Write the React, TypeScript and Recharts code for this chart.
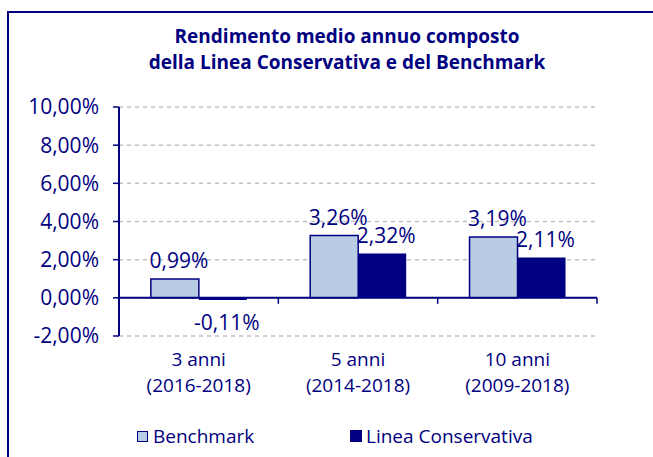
import React from "react";
import {
  BarChart, Bar, XAxis, YAxis, CartesianGrid, ReferenceLine, LabelList, Legend,
} from "recharts";

const periods = ["3 anni", "5 anni", "10 anni"];
const ranges = ["(2016-2018)", "(2014-2018)", "(2009-2018)"];
const benchmark = [0.99, 3.26, 3.19];
const conservativa = [-0.11, 2.32, 2.11];
const yTicks = [-2, 0, 2, 4, 6, 8, 10];

const data = periods.map((p, i) => ({
  period: p,
  range: ranges[i],
  benchmark: benchmark[i],
  conservativa: conservativa[i],
}));

const NAVY = "#000080";
const LIGHT = "#b8cce4";
const FONT = "'Open Sans', sans-serif";
const FS = 21;

const fmt = (v: number) => v.toFixed(2).replace(".", ",") + "%";

// ── value labels: above positive bars, below negative ones ──────────────────
const renderValue = (props: any) => {
  const { x, y, width, height, value } = props;
  const top = Math.min(y, y + height);
  const bottom = Math.max(y, y + height);
  const cx = x + width / 2 + 4;
  return value >= 0 ? (
    <text x={cx} y={top - 11} fill={NAVY} fontSize={FS} fontFamily={FONT} textAnchor="middle">
      {fmt(value)}
    </text>
  ) : (
    <text x={cx} y={bottom + 30} fill={NAVY} fontSize={FS} fontFamily={FONT} textAnchor="middle">
      {fmt(value)}
    </text>
  );
};

// ── two-line category tick ──────────────────────────────────────────────────
const CategoryTick = (props: any) => {
  const { x, y, payload } = props;
  const row = data.find(d => d.period === payload.value);
  return (
    <g>
      <text x={x} y={y + 22} fill={NAVY} fontSize={19} fontFamily={FONT} textAnchor="middle">
        {payload.value}
      </text>
      <text x={x} y={y + 48} fill={NAVY} fontSize={19} fontFamily={FONT} textAnchor="middle">
        {row?.range}
      </text>
    </g>
  );
};

// ── zero axis with category boundary ticks ──────────────────────────────────
const ZeroAxis = (props: any) => {
  const { x1, y1, x2 } = props;
  const step = (x2 - x1) / periods.length;
  return (
    <g>
      <line x1={x1} y1={y1} x2={x2} y2={y1} stroke={NAVY} strokeWidth={2} />
      {periods.map((_, k) => (
        <line key={k} x1={x1 + step * (k + 1)} y1={y1} x2={x1 + step * (k + 1)} y2={y1 + 6} stroke={NAVY} strokeWidth={1.5} />
      ))}
    </g>
  );
};

const LegendContent = () => (
  <div style={{ display: "flex", fontFamily: FONT, fontSize: 19, color: NAVY, lineHeight: "22px", height: 22 }}>
    <div style={{ display: "flex", alignItems: "center", width: 213 }}>
      <span style={{ width: 9, height: 9, background: LIGHT, border: `1.5px solid ${NAVY}`, marginRight: 5 }} />
      Benchmark
    </div>
    <div style={{ display: "flex", alignItems: "center" }}>
      <span style={{ width: 12, height: 12, background: NAVY, marginRight: 4 }} />
      Linea Conservativa
    </div>
  </div>
);

const titleStyle: React.CSSProperties = {
  position: "absolute", left: 0, width: 694, textAlign: "center",
  fontFamily: FONT, fontWeight: 700, fontSize: 19, lineHeight: "26px", color: NAVY,
};

export default function App() {
  return (
    <div style={{ position: "absolute", left: 0, top: 0, width: 653, height: 457, overflow: "hidden", background: "#fff" }}>
      <div style={{ position: "absolute", left: 7, top: 11, width: 800, height: 600, border: `2px solid ${NAVY}` }} />
      <div style={{ ...titleStyle, top: 23 }}>Rendimento medio annuo composto</div>
      <div style={{ ...titleStyle, top: 49 }}>della Linea Conservativa e del Benchmark</div>
      <div style={{ position: "absolute", left: 0, top: 0 }}>
        <BarChart
          width={653} height={457} data={data}
          margin={{ top: 107, right: 56, left: 0, bottom: 39 }}
          barGap={0} barCategoryGap="20%"
        >
          <CartesianGrid vertical={false} stroke="#c0c0c0" strokeDasharray="4 4" strokeWidth={1.5} />
          <XAxis dataKey="period" axisLine={false} tickLine={false} height={60} tick={<CategoryTick />} interval={0} />
          <YAxis
            width={119} domain={[-2, 10]} ticks={yTicks} interval={0}
            tickFormatter={fmt}
            tick={{ fill: NAVY, fontSize: FS, fontFamily: FONT }}
            axisLine={{ stroke: NAVY, strokeWidth: 2 }}
            tickLine={{ stroke: NAVY, strokeWidth: 1.5 }}
            tickSize={6} tickMargin={14}
          />
          <Bar dataKey="benchmark" name="Benchmark" fill={LIGHT} stroke={NAVY} strokeWidth={1.5} isAnimationActive={false}>
            <LabelList dataKey="benchmark" content={renderValue} />
          </Bar>
          <Bar dataKey="conservativa" name="Linea Conservativa" fill={NAVY} isAnimationActive={false}>
            <LabelList dataKey="conservativa" content={renderValue} />
          </Bar>
          <ReferenceLine y={0} shape={<ZeroAxis />} ifOverflow="visible" />
          <Legend content={<LegendContent />} wrapperStyle={{ left: 137, top: 425, width: 450 }} />
        </BarChart>
      </div>
    </div>
  );
}
